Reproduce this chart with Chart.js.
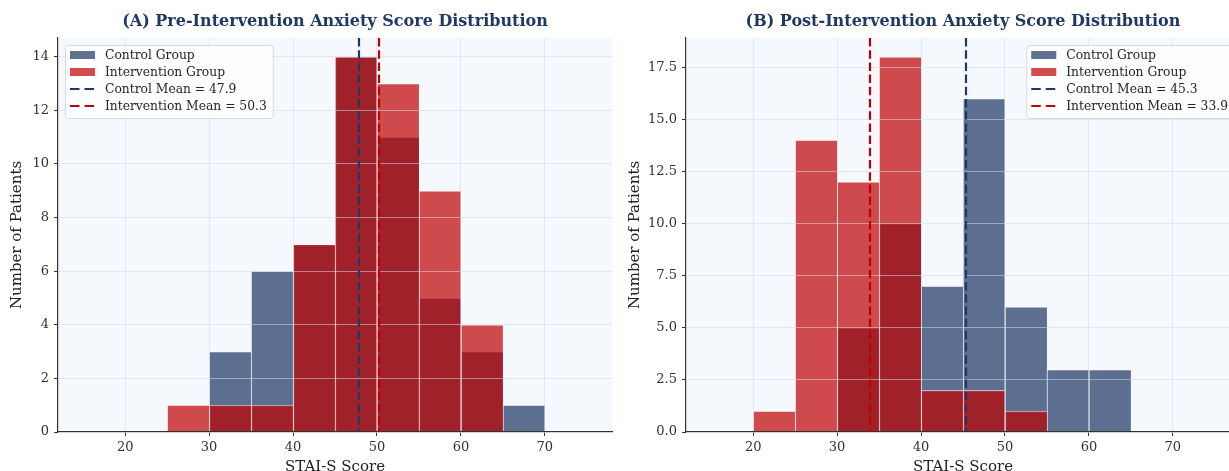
<!DOCTYPE html>
<html>
<head>
<meta charset="utf-8">
<title>Anxiety Score Distribution</title>
<script src="https://cdn.jsdelivr.net/npm/chart.js@4.4.1/dist/chart.umd.min.js"></script>
<style>
  html, body { margin: 0; padding: 0; background: #ffffff; overflow: hidden; width: 1229px; height: 471px; }
  .panel { position: absolute; top: 0; height: 480px; }
  #preWrap { left: 0; width: 620px; }
  #postWrap { left: 618px; width: 630px; }
</style>
</head>
<body>
<div class="panel" id="preWrap"><canvas id="preChart" width="620" height="480"></canvas></div>
<div class="panel" id="postWrap"><canvas id="postChart" width="630" height="480"></canvas></div>
<script>
// histogram bins (width 5) - centers
const binCenters = [17.5, 22.5, 27.5, 32.5, 37.5, 42.5, 47.5, 52.5, 57.5, 62.5, 67.5, 72.5];
const xTicks = [20, 30, 40, 50, 60, 70];

// counts per bin
const preControl      = [0, 0, 0, 3, 6, 7, 14, 11, 5, 3, 1, 0];
const preIntervention = [0, 0, 1, 1, 1, 7, 14, 13, 9, 4, 0, 0];
const postControl      = [0, 0, 0, 5, 10, 7, 16, 6, 3, 3, 0, 0];
const postIntervention = [0, 1, 14, 12, 18, 2, 2, 1, 0, 0, 0, 0];

// group means [control, intervention]
const preMeans = [47.9, 50.3];
const postMeans = [45.3, 33.9];

const preYTicks = [0, 2, 4, 6, 8, 10, 12, 14];
const postYTicks = [0, 2.5, 5, 7.5, 10, 12.5, 15, 17.5];

const SERIF = "'DejaVu Serif', serif";
const NAVY = "#1f3864";
const RED = "#c00000";
const CONTROL_FILL = "rgba(28, 53, 98, 0.7)";
const INTERVENTION_FILL = "rgba(191, 0, 0, 0.7)";
const PLOT_BG = "#f5f9fd";

// fill the axes background
const plotBackground = {
  id: "plotBackground",
  beforeDraw(chart) {
    const { ctx, chartArea: a } = chart;
    ctx.save();
    ctx.fillStyle = PLOT_BG;
    ctx.fillRect(a.left, a.top, a.right - a.left, a.bottom - a.top);
    ctx.restore();
  }
};

// dashed mean lines + legend box inside the plot
const meansAndLegend = {
  id: "meansAndLegend",
  afterDraw(chart, args, opts) {
    const { ctx, chartArea: a } = chart;
    const xScale = chart.scales.x;
    const colors = [NAVY, RED];

    ctx.save();
    ctx.lineWidth = 2.2;
    ctx.setLineDash([8.5, 3.7]);
    opts.means.forEach((m, i) => {
      const px = Math.round(xScale.getPixelForValue(m));
      ctx.strokeStyle = colors[i];
      ctx.beginPath();
      ctx.moveTo(px, a.top);
      ctx.lineTo(px, a.bottom);
      ctx.stroke();
    });
    ctx.restore();

    // legend
    const items = [
      { text: "Control Group", type: "patch", color: CONTROL_FILL },
      { text: "Intervention Group", type: "patch", color: INTERVENTION_FILL },
      { text: "Control Mean = " + opts.means[0].toFixed(1), type: "line", color: NAVY },
      { text: "Intervention Mean = " + opts.means[1].toFixed(1), type: "line", color: RED }
    ];
    ctx.save();
    ctx.font = "12.3px " + SERIF;
    const textW = Math.max(...items.map((it) => ctx.measureText(it.text).width));
    const w = 40 + textW + 6;
    const h = 73;
    const x0 = opts.side === "left" ? a.left + 7 : a.right - 6 - w;
    const y0 = a.top + 7;

    ctx.fillStyle = "rgba(255,255,255,0.8)";
    ctx.strokeStyle = "#d6d9de";
    ctx.lineWidth = 1;
    ctx.beginPath();
    ctx.roundRect(x0 + 0.5, y0 + 0.5, w, h, 3);
    ctx.fill();
    ctx.stroke();

    items.forEach((it, i) => {
      const cy = y0 + 10 + i * 17;
      if (it.type === "patch") {
        ctx.fillStyle = it.color;
        ctx.fillRect(x0 + 5, cy - 4, 25, 8);
      } else {
        ctx.strokeStyle = it.color;
        ctx.lineWidth = 2;
        ctx.setLineDash([9.5, 5]);
        ctx.beginPath();
        ctx.moveTo(x0 + 5, cy);
        ctx.lineTo(x0 + 30, cy);
        ctx.stroke();
        ctx.setLineDash([]);
      }
      ctx.fillStyle = "#262626";
      ctx.textBaseline = "middle";
      ctx.textAlign = "left";
      ctx.fillText(it.text, x0 + 40, cy + 1);
    });
    ctx.restore();
  }
};

function makeHistogram(canvasId, cfg) {
  const toPoints = (arr) => arr.map((v, i) => ({ x: binCenters[i], y: v }));
  const barStyle = {
    borderColor: "rgba(255,255,255,0.55)",
    borderWidth: { left: 1, top: 1, right: 0, bottom: 0 },
    borderSkipped: false,
    barPercentage: 1,
    categoryPercentage: 1,
    grouped: false
  };

  return new Chart(document.getElementById(canvasId), {
    type: "bar",
    data: {
      datasets: [
        Object.assign({ label: "Control Group", data: toPoints(cfg.control), backgroundColor: CONTROL_FILL, order: 1 }, barStyle),
        Object.assign({ label: "Intervention Group", data: toPoints(cfg.intervention), backgroundColor: INTERVENTION_FILL, order: 0 }, barStyle)
      ]
    },
    options: {
      responsive: false,
      animation: false,
      layout: { padding: { left: 0, right: 8, top: 0, bottom: 0 } },
      plugins: {
        legend: { display: false },
        tooltip: { enabled: false },
        title: {
          display: true,
          text: cfg.title,
          fullSize: false,
          color: NAVY,
          font: { family: SERIF, size: 16, weight: "bold" },
          padding: { top: 12, bottom: 6.8 }
        },
        meansAndLegend: { means: cfg.means, side: cfg.legendSide }
      },
      scales: {
        x: {
          type: "linear",
          min: 12,
          max: 78,
          offset: false,
          afterFit: (s) => { s.height = 48; },
          afterBuildTicks: (s) => { s.ticks = xTicks.map((v) => ({ value: v })); },
          grid: { color: "rgba(205,218,234,0.55)", tickColor: "#333333", tickLength: 4, offset: false, z: 1 },
          border: { color: "#333333", width: 1.2, z: 1 },
          ticks: { color: "#333333", font: { family: SERIF, size: 13 }, padding: 4, maxRotation: 0 },
          title: { display: true, text: "STAI-S Score", color: "#222222", font: { family: SERIF, size: 15 }, padding: { top: 0, bottom: 4 } }
        },
        y: {
          min: 0,
          max: cfg.yMax,
          afterFit: (s) => { s.width = cfg.yAxisWidth; },
          afterBuildTicks: (s) => { s.ticks = cfg.yTicks.map((v) => ({ value: v })); },
          grid: { color: "rgba(205,218,234,0.55)", tickColor: "#333333", tickLength: 4, z: 1 },
          border: { color: "#333333", width: 1.2, z: 1 },
          ticks: {
            color: "#333333",
            font: { family: SERIF, size: 13 },
            padding: 5,
            callback: (v) => cfg.tickFormat(v)
          },
          title: { display: true, text: "Number of Patients", color: "#222222", font: { family: SERIF, size: 15 }, padding: { top: 8, bottom: 0 } }
        }
      }
    },
    plugins: [plotBackground, meansAndLegend]
  });
}

makeHistogram("preChart", {
  title: "(A) Pre-Intervention Anxiety Score Distribution",
  control: preControl,
  intervention: preIntervention,
  means: preMeans,
  yMax: 14.7,
  yTicks: preYTicks,
  yAxisWidth: 58,
  legendSide: "left",
  tickFormat: (v) => String(v)
});

makeHistogram("postChart", {
  title: "(B) Post-Intervention Anxiety Score Distribution",
  control: postControl,
  intervention: postIntervention,
  means: postMeans,
  yMax: 18.9,
  yTicks: postYTicks,
  yAxisWidth: 68,
  legendSide: "right",
  tickFormat: (v) => v.toFixed(1)
});
</script>
</body>
</html>
